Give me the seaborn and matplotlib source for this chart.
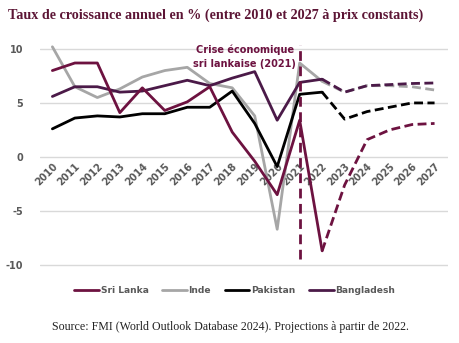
import numpy as np
import pandas as pd
import matplotlib
matplotlib.use("Agg")
import matplotlib.pyplot as plt
import seaborn as sns
from matplotlib.lines import Line2D

years = list(range(2010, 2028))
sri_lanka = [8.0, 8.7, 8.7, 4.1, 6.4, 4.3, 5.1, 6.5, 2.3, -0.4, -3.5, 3.4, -8.7, -2.6, 1.6, 2.5, 3.0, 3.1]
inde = [10.2, 6.5, 5.5, 6.3, 7.4, 8.0, 8.3, 6.8, 6.4, 3.8, -6.7, 8.7, 7.0, 6.0, 6.6, 6.6, 6.5, 6.2]
pakistan = [2.6, 3.6, 3.8, 3.7, 4.0, 4.0, 4.6, 4.6, 6.1, 3.1, -0.9, 5.8, 6.0, 3.5, 4.2, 4.6, 5.0, 5.0]
bangladesh = [5.6, 6.5, 6.5, 6.0, 6.1, 6.6, 7.1, 6.6, 7.3, 7.9, 3.4, 6.9, 7.2, 6.0, 6.6, 6.7, 6.8, 6.85]

countries = ["Sri Lanka", "Inde", "Pakistan", "Bangladesh"]
series = [sri_lanka, inde, pakistan, bangladesh]
colors = {"Sri Lanka": "#6d1240", "Inde": "#a6a6a6", "Pakistan": "#000000", "Bangladesh": "#4b1a48"}
proj_start = 2022
crisis_year = 2021

rows = []
for c, vals in zip(countries, series):
    for y, v in zip(years, vals):
        rows.append({"pays": c, "annee": y, "croissance": v})
df = pd.DataFrame(rows)

sns.set_style("white")
plt.rcParams["font.family"] = ["DejaVu Sans"]

fig = plt.figure(figsize=(4.6, 3.43), dpi=100)
ax = fig.add_axes([0.087, 0.212, 0.887, 0.661])

for c in ["Inde", "Pakistan", "Bangladesh", "Sri Lanka"]:
    d = df[df["pays"] == c]
    hist = d[d["annee"] <= proj_start]
    proj = d[d["annee"] >= proj_start]
    sns.lineplot(data=hist, x="annee", y="croissance", color=colors[c], lw=2.0, ax=ax, zorder=3)
    sns.lineplot(data=proj, x="annee", y="croissance", color=colors[c], lw=2.0, ax=ax,
                 linestyle=(0, (3.2, 1.6)), zorder=3)

ax.vlines(crisis_year, -9.5, 10.4, colors="#6d1240", linestyles=(0, (3.5, 2.0)), lw=2.0, zorder=4)
ax.text(2018.55, 9.3, "Crise économique\nsri lankaise (2021)", ha="center", va="center",
        color="#6d1240", fontsize=7.0, fontweight="bold", linespacing=1.55, zorder=5)

ax.spines["bottom"].set_position(("data", 0))
for s in ["top", "right", "left", "bottom"]:
    ax.spines[s].set_visible(False)

ax.set_xlim(2009.45, 2027.6)
ax.set_ylim(-10.5, 10.5)
ax.set_yticks([-10, -5, 0, 5, 10])
ax.set_yticklabels(["-10", "-5", "0", "5", "10"], fontweight="bold")
ax.set_xticks(years)
ax.set_xticklabels([str(y) for y in years], rotation=45, ha="right", rotation_mode="anchor",
                   fontweight="bold")
ax.yaxis.grid(True, color="#d9d9d9", lw=1.0)
ax.set_axisbelow(True)
ax.tick_params(axis="both", length=0, labelsize=7.0, labelcolor="#595959")
ax.tick_params(axis="x", pad=3)
ax.tick_params(axis="y", pad=12)
ax.set_xlabel("")
ax.set_ylabel("")

handles = [Line2D([0], [0], color=colors[c], lw=2.0) for c in countries]
leg = fig.legend(handles, countries, loc="center", bbox_to_anchor=(0.51, 0.152), ncol=4,
                 frameon=False, fontsize=6.6, handlelength=2.7, handletextpad=0.15, columnspacing=1.5)
for t in leg.get_texts():
    t.set_color("#595959")
    t.set_fontweight("bold")

fig.text(0.018, 0.955, "Taux de croissance annuel en % (entre 2010 et 2027 à prix constants)",
         family="Liberation Serif", fontweight="bold", fontsize=10.2, color="#5c1535", ha="left", va="center")
fig.text(0.5, 0.047, "Source: FMI (World Outlook Database 2024). Projections à partir de 2022.",
         family="Liberation Serif", fontsize=8.6, color="#222222", ha="center", va="center")

fig.savefig("out.png", dpi=100)
